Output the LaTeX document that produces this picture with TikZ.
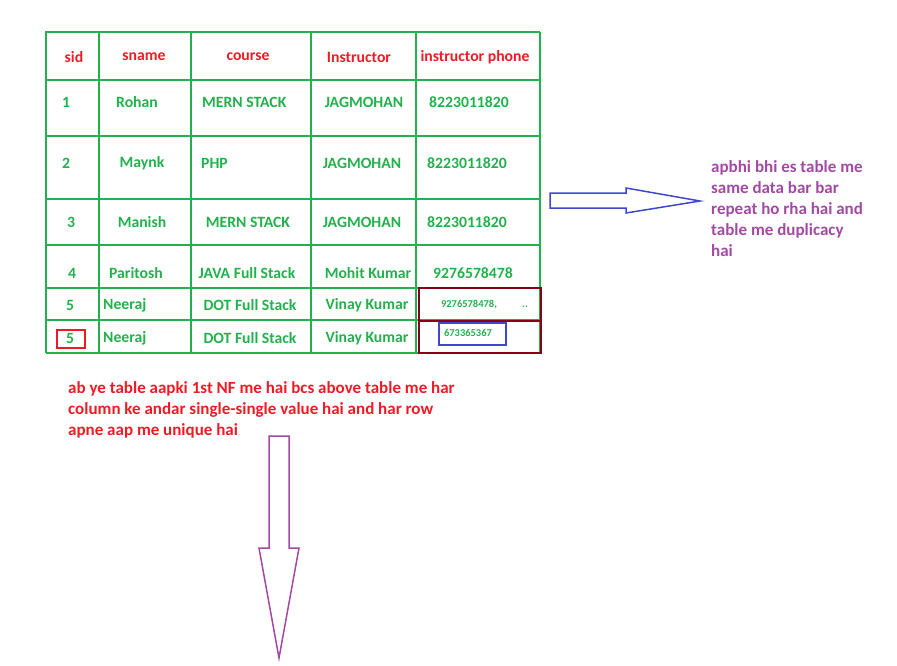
\documentclass[tikz,border=0pt]{standalone}
\usepackage{fontspec}
\setmainfont{Carlito}
\usepackage{xcolor}
\usetikzlibrary{positioning}
\definecolor{paintgreen}{RGB}{34,177,76}
\definecolor{paintred}{RGB}{237,28,36}
\definecolor{paintpurple}{RGB}{163,73,164}
\definecolor{paintblue}{RGB}{63,72,204}
\definecolor{paintdarkred}{RGB}{136,0,21}
\tikzset{every node/.append style={inner sep=0pt}}
\tikzset{cell/.style={text=paintgreen,font=\bfseries\fontsize{15.7}{18}\selectfont}}
\tikzset{head/.style={cell,text=paintred}}
\tikzset{tiny/.style={cell,font=\bfseries\fontsize{10.5}{12}\selectfont}}
\tikzset{gridline/.style={draw=paintgreen,line width=2.2pt}}
\tikzset{note/.style={anchor=north west,align=left,font=\bfseries\fontsize{17}{21}\selectfont}}

\begin{document}
\begin{tikzpicture}[x=1pt,y=-1pt]
      \useasboundingbox (0,0) rectangle (897,665);
      % table grid
      \draw[gridline] (46,32) -- (540,32);
      \draw[gridline] (46,80) -- (540,80);
      \draw[gridline] (46,136) -- (540,136);
      \draw[gridline] (46,199) -- (540,199);
      \draw[gridline] (46,245) -- (540,245);
      \draw[gridline] (46,288) -- (540,288);
      \draw[gridline] (46,320) -- (540,320);
      \draw[gridline] (46,353) -- (540,353);
      \draw[gridline] (46,31) -- (46,353);
      \draw[gridline] (99,31) -- (99,353);
      \draw[gridline] (191,32) -- (191,353);
      \draw[gridline] (311,32) -- (311,353);
      \draw[gridline] (416,32) -- (416,353);
      \draw[gridline] (540,32) -- (540,353);
      % header
      \node[head] at (74,57) (h1) {sid};
      \node[head] at (144,57) (h2) {sname};
      \node[head] at (248,57) (h3) {course};
      \node[head] at (359,57) (h4) {Instructor};
      \node[head] at (475,57) (h5) {instructor phone};
      % rows
      \node[cell] at (66,102) (r1a) {1};
      \node[cell] at (137,102) (r1b) {Rohan};
      \node[cell,anchor=west] at (202,102) (r1c) {MERN STACK};
      \node[cell] at (364,102) (r1d) {JAGMOHAN};
      \node[cell] at (469,102) (r1e) {8223011820};
      \node[cell] at (66,163) (r2a) {2};
      \node[cell] at (142,163) (r2b) {Maynk};
      \node[cell,anchor=west] at (201,163) (r2c) {PHP};
      \node[cell] at (362,163) (r2d) {JAGMOHAN};
      \node[cell] at (467,163) (r2e) {8223011820};
      \node[cell] at (71,222) (r3a) {3};
      \node[cell] at (142,222) (r3b) {Manish};
      \node[cell] at (248,222) (r3c) {MERN STACK};
      \node[cell] at (362,222) (r3d) {JAGMOHAN};
      \node[cell] at (467,222) (r3e) {8223011820};
      \node[cell] at (72,273) (r4a) {4};
      \node[cell] at (136,273) (r4b) {Paritosh};
      \node[cell] at (247,273) (r4c) {JAVA Full Stack};
      \node[cell] at (368,273) (r4d) {Mohit Kumar};
      \node[cell] at (473,273) (r4e) {9276578478};
      \node[cell] at (70,305) (r5a) {5};
      \node[cell,anchor=west] at (103,305) (r5b) {Neeraj};
      \node[cell] at (250,305) (r5c) {DOT Full Stack};
      \node[cell] at (367,305) (r5d) {Vinay Kumar};
      \node[tiny] at (469,305) (r5e) {9276578478,};
      \node[tiny] at (525,307) (r5f) {..};
      \node[cell] at (70,338) (r6a) {5};
      \node[cell,anchor=west] at (103,338) (r6b) {Neeraj};
      \node[cell] at (250,338) (r6c) {DOT Full Stack};
      \node[cell] at (367,338) (r6d) {Vinay Kumar};
      \node[tiny] at (468,333) (r6e) {673365367};
      % marks
      \draw[paintred,line width=1.6pt] (57,330) rectangle (85,348);
      \draw[paintblue,line width=1.6pt] (439,323) rectangle (506,345);
      \draw[paintdarkred,line width=2pt] (419,288) rectangle (541,353);
      \draw[paintdarkred,line width=2pt] (419,321) -- (541,321);
      % notes
      \node[note,text=paintpurple] at (711,160) (dup) {apbhi bhi es table me\\same data bar bar\\repeat ho rha hai and\\table me duplicacy\\hai};
      \node[note,text=paintred] at (68,381) (onenf) {ab ye table aapki 1st NF me hai bcs above table me har\\column ke andar single-single value hai and har row\\apne aap me unique hai};
      % block arrows
      \draw[paintblue,line width=1.5pt,line join=miter] (550,193) -- (626,193) -- (626,188) -- (700,201) -- (626,213) -- (626,208) -- (550,208) -- cycle;
      \draw[paintpurple,line width=1.5pt,line join=miter] (269,436) -- (289,436) -- (289,548) -- (299,548) -- (279,658) -- (259,548) -- (269,548) -- cycle;
    \end{tikzpicture}
\end{document}
